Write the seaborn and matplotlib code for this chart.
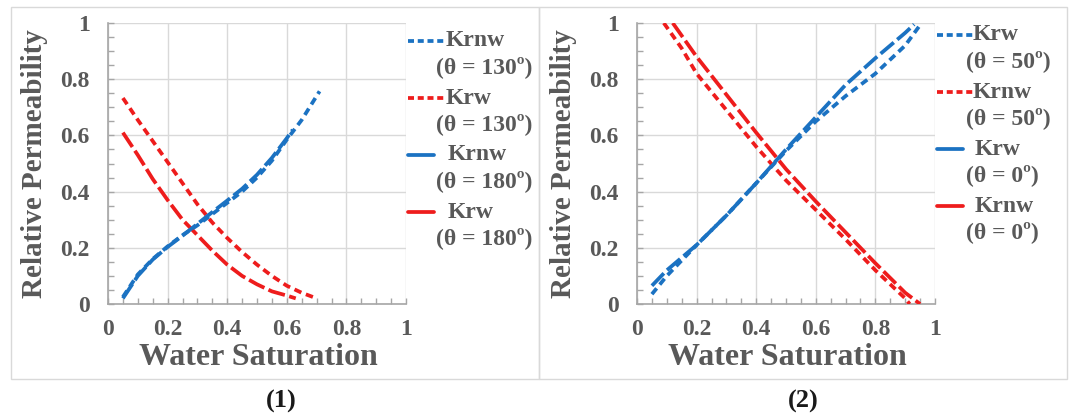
import numpy as np
import pandas as pd
import matplotlib
matplotlib.use("Agg")
import matplotlib.pyplot as plt
from matplotlib.lines import Line2D
from matplotlib.patches import Rectangle
import seaborn as sns

# ---- panel (1): theta = 130 deg vs 180 deg ----
sw_krnw130 = [0.05, 0.10, 0.15, 0.20, 0.25, 0.30, 0.35, 0.40, 0.45, 0.50, 0.55, 0.60, 0.65, 0.71]
krnw130 = [0.025, 0.105, 0.160, 0.205, 0.245, 0.280, 0.320, 0.360, 0.400, 0.450, 0.510, 0.585, 0.655, 0.757]
sw_krw130 = [0.05, 0.10, 0.15, 0.20, 0.25, 0.30, 0.35, 0.40, 0.45, 0.50, 0.55, 0.60, 0.65, 0.70]
krw130 = [0.733, 0.655, 0.580, 0.505, 0.430, 0.355, 0.290, 0.235, 0.185, 0.140, 0.100, 0.065, 0.040, 0.020]
sw_krnw180 = [0.05, 0.10, 0.15, 0.20, 0.25, 0.30, 0.35, 0.40, 0.45, 0.50, 0.55, 0.60, 0.62]
krnw180 = [0.020, 0.100, 0.158, 0.203, 0.243, 0.285, 0.327, 0.368, 0.410, 0.460, 0.520, 0.590, 0.620]
sw_krw180 = [0.05, 0.10, 0.15, 0.20, 0.25, 0.30, 0.35, 0.40, 0.45, 0.50, 0.55, 0.60, 0.63]
krw180 = [0.610, 0.530, 0.445, 0.370, 0.300, 0.245, 0.190, 0.140, 0.100, 0.070, 0.045, 0.030, 0.020]

# ---- panel (2): theta = 50 deg vs 0 deg ----
sw_krw50 = [0.05, 0.10, 0.20, 0.30, 0.40, 0.50, 0.60, 0.70, 0.80, 0.90, 0.955]
krw50 = [0.035, 0.100, 0.210, 0.315, 0.430, 0.545, 0.650, 0.740, 0.820, 0.920, 1.000]
sw_krnw50 = [0.09, 0.15, 0.20, 0.30, 0.40, 0.50, 0.60, 0.70, 0.80, 0.90, 0.915]
krnw50 = [1.000, 0.910, 0.820, 0.690, 0.560, 0.440, 0.335, 0.230, 0.120, 0.020, 0.000]
sw_krw0 = [0.05, 0.10, 0.20, 0.30, 0.40, 0.50, 0.60, 0.70, 0.80, 0.90, 0.93]
krw0 = [0.065, 0.120, 0.210, 0.315, 0.430, 0.550, 0.665, 0.780, 0.875, 0.965, 0.995]
sw_krnw0 = [0.12, 0.20, 0.30, 0.40, 0.50, 0.60, 0.70, 0.80, 0.90, 0.95]
krnw0 = [1.000, 0.880, 0.745, 0.610, 0.480, 0.365, 0.255, 0.145, 0.040, 0.000]

tick_values = [0, 0.2, 0.4, 0.6, 0.8, 1]
tick_labels = ["0", "0.2", "0.4", "0.6", "0.8", "1"]
x_title = "Water Saturation"
y_title = "Relative Permeability"

BLUE = "#1B72C2"
RED = "#EE1C1C"
TEXT = "#595959"
SHORT = (0, (2.0, 1.3))
LONG = (0, (4.6, 1.2))
FONT = "Liberation Serif"

sns.set_theme(style="white")
plt.rcParams["font.family"] = [FONT, "DejaVu Serif"]
plt.rcParams["font.weight"] = "bold"

W, H = 1075, 420
fig = plt.figure(figsize=(W / 100, H / 100), dpi=100)
fig.patch.set_facecolor("white")


def fx(px):
    return px / W


def fy(py):
    return 1 - py / H


# panel frames
for x0, x1 in [(11, 539), (539, 1067)]:
    fig.patches.append(Rectangle((fx(x0), fy(379)), fx(x1 - x0), (379 - 7) / H,
                                 transform=fig.transFigure, fill=False,
                                 edgecolor="#d9d9d9", linewidth=1.0, zorder=0))


def make_axes(left_px):
    ax = fig.add_axes([fx(left_px), fy(304), 298 / W, 281 / H])
    ax.set_xlim(0, 1)
    ax.set_ylim(0, 1)
    ax.set_facecolor("white")
    return ax


def style_axes(ax):
    ax.set_xticks(tick_values)
    ax.set_xticklabels(tick_labels)
    ax.set_yticks(tick_values)
    ax.set_yticklabels(tick_labels)
    ax.set_xticks(np.arange(0, 1.0001, 0.05), minor=True)
    ax.set_yticks(np.arange(0, 1.0001, 0.05), minor=True)
    ax.grid(True, which="major", color="#d9d9d9", linewidth=1.0)
    ax.set_axisbelow(True)
    for s in ["top", "right"]:
        ax.spines[s].set_visible(False)
    for s in ["left", "bottom"]:
        ax.spines[s].set_color("#a6a6a6")
        ax.spines[s].set_linewidth(1.2)
    ax.tick_params(which="both", direction="in", color="#a6a6a6", width=1.0,
                   bottom=True, left=True)
    ax.tick_params(which="major", length=4)
    ax.tick_params(which="minor", length=4)
    ax.tick_params(axis="x", pad=11, labelsize=17, labelcolor=TEXT)
    ax.tick_params(axis="y", pad=13, labelsize=17, labelcolor=TEXT)
    for lab in ax.get_xticklabels() + ax.get_yticklabels():
        lab.set_fontweight("bold")
    ax.set_xlabel(x_title, fontsize=23, fontweight="bold", color=TEXT)
    ax.set_ylabel(y_title, fontsize=21, fontweight="bold", color=TEXT)
    ax.xaxis.set_label_coords(0.503, -0.14)
    ax.yaxis.set_label_coords(-0.20, 0.5)


def draw(ax, xs, ys, color, ls):
    df = pd.DataFrame({"sw": xs, "kr": ys})
    sns.lineplot(data=df, x="sw", y="kr", ax=ax, color=color, linestyle=ls,
                 linewidth=2.7, sort=False, estimator=None, zorder=3)


def legend(entries, handle_x0, x_text1, x_text2, y_rows):
    for (color, ls, name, theta), y in zip(entries, y_rows):
        dashed = ls is SHORT
        hx1 = handle_x0 + (37 if dashed else 26)
        line = Line2D([fx(handle_x0), fx(hx1)], [fy(y), fy(y)],
                      transform=fig.transFigure, color=color, linewidth=2.7,
                      linestyle=(0, (1.6, 1.0)) if dashed else "-")
        fig.lines.append(line)
        fig.text(fx(x_text1 + (0 if dashed else 2)), fy(y), name, fontsize=17,
                 fontweight="bold", color=TEXT, ha="left", va="center")
        fig.text(fx(x_text2), fy(y + 26), theta, fontsize=17,
                 fontweight="bold", color=TEXT, ha="left", va="center")


# panel (1)
ax1 = make_axes(108)
draw(ax1, sw_krw130, krw130, RED, SHORT)
draw(ax1, sw_krw180, krw180, RED, LONG)
draw(ax1, sw_krnw180, krnw180, BLUE, LONG)
draw(ax1, sw_krnw130, krnw130, BLUE, SHORT)
style_axes(ax1)
legend([(BLUE, SHORT, "Krnw", "(θ = 130º)"),
        (RED, SHORT, "Krw", "(θ = 130º)"),
        (BLUE, LONG, "Krnw", "(θ = 180º)"),
        (RED, LONG, "Krw", "(θ = 180º)")],
       408, 446, 436, [41, 98, 155, 212])

# panel (2)
ax2 = make_axes(637)
draw(ax2, sw_krnw50, krnw50, RED, SHORT)
draw(ax2, sw_krnw0, krnw0, RED, LONG)
draw(ax2, sw_krw0, krw0, BLUE, LONG)
draw(ax2, sw_krw50, krw50, BLUE, SHORT)
style_axes(ax2)
legend([(BLUE, SHORT, "Krw", "(θ = 50º)"),
        (RED, SHORT, "Krnw", "(θ = 50º)"),
        (BLUE, LONG, "Krw", "(θ = 0º)"),
        (RED, LONG, "Krnw", "(θ = 0º)")],
       937, 973, 966, [35, 92, 149, 206])

# panel captions
fig.text(fx(281), fy(401), "(1)", fontsize=19, fontweight="bold", color="#1a1a1a",
         ha="center", va="center")
fig.text(fx(803), fy(401), "(2)", fontsize=19, fontweight="bold", color="#1a1a1a",
         ha="center", va="center")

fig.savefig("out.png", dpi=100, facecolor="white")
